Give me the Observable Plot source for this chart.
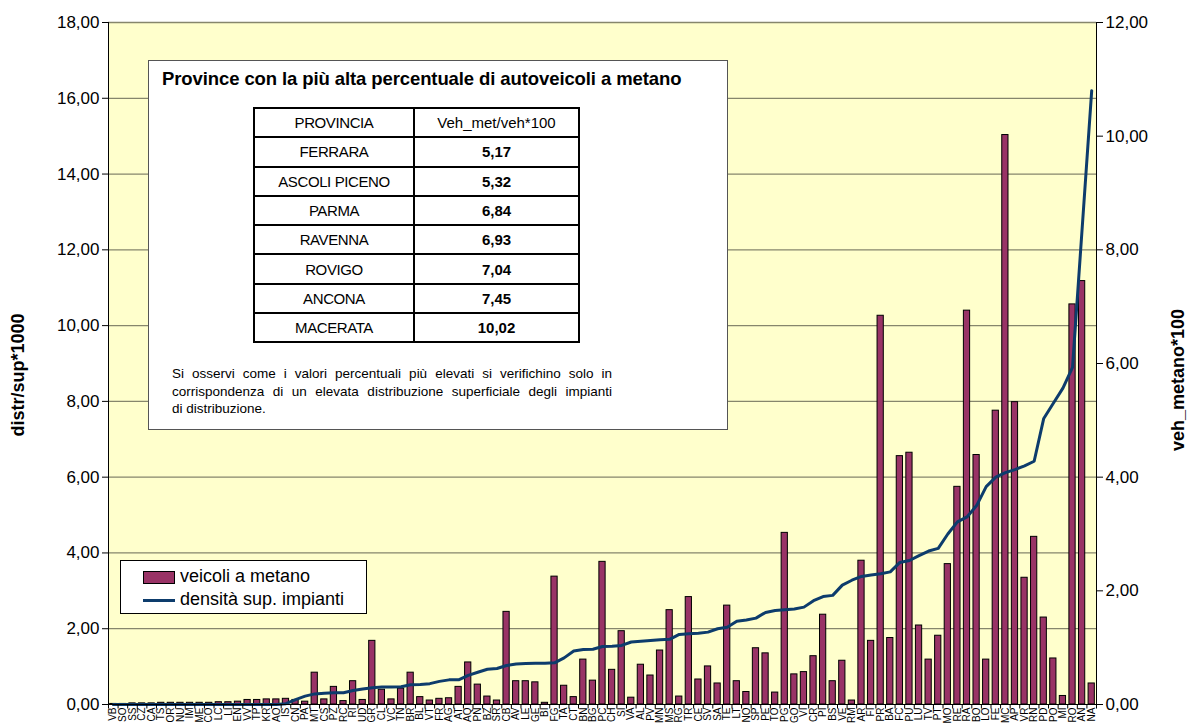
<!DOCTYPE html>
<html>
<head>
<meta charset="utf-8">
<script src="https://cdn.jsdelivr.net/npm/d3@7"></script>
<script src="https://cdn.jsdelivr.net/npm/@observablehq/plot@0.6"></script>
<style>
  html, body { margin: 0; padding: 0; background: #fff; }
  #wrap { position: relative; width: 1189px; height: 724px; overflow: hidden; font-family: "Liberation Sans", Arial, sans-serif; }
  #wrap svg { position: absolute; left: 0; top: 0; }
  .ytitle { position: absolute; font-weight: bold; font-size: 18px; white-space: nowrap; transform: translate(-50%, -50%) rotate(-90deg); }
  #note { position: absolute; left: 148px; top: 60px; width: 580px; height: 370px; background: #fff; border: 1px solid #555; box-sizing: border-box; }
  #note h3 { position: absolute; left: 13px; top: 7px; margin: 0; font-size: 18.5px; font-weight: bold; white-space: nowrap; letter-spacing: -0.1px; }
  #note table { position: absolute; left: 104px; top: 46px; border-collapse: collapse; }
  #note td { border: 2px solid #000; height: 27.3px; padding: 0; text-align: center; font-size: 15px; }
  #note td.c1 { width: 158px; letter-spacing: -0.4px; }
  #note td.c2 { width: 163px; }
  #note td.b { font-weight: bold; }
  #note .para { position: absolute; left: 23px; top: 304px; width: 440px; font-size: 13.5px; line-height: 17.5px; }
  #note .para div { white-space: nowrap; }
  #note .para div.j { text-align: justify; text-align-last: justify; white-space: normal; }
  #legend { position: absolute; left: 120px; top: 560px; width: 247px; height: 54px; background: #fff; border: 1px solid #000; box-sizing: border-box; }
  .li { position: absolute; left: 22px; height: 22px; font-size: 18px; white-space: nowrap; }
  .sw { display: inline-block; width: 32px; vertical-align: middle; margin-right: 5px; }
</style>
</head>
<body>
<div id="wrap"></div>
<script>
// ---- data ----
const provinces = ["VB","SO","SS","CZ","CA","TS","OR","NU","IM","ME","CO","LC","LI","EN","VV","TP","KR","AO","IS","CN",
  "PA","MT","CS","PZ","RC","RI","UD","GR","CL","VC","TN","BR","BL","VT","FR","AG","AT","AQ","PN","BZ",
  "SR","CB","AV","LE","GE","BI","FG","TA","CT","BN","BG","PC","CH","SI","VA","AL","PV","MN","MS","RG",
  "TR","CE","SV","SA","TE","LT","NO","SP","PE","TO","PG","GO","VI","CR","PI","BS","VE","RM","AR","FI",
  "PR","BA","FC","PU","LU","TV","PT","MO","RE","RA","BO","LO","FE","MC","AP","VR","RN","PD","PO","MI",
  "RO","AN","NA"];
// veicoli a metano (veh_metano*100, right axis)
const vehMetano = [0.01,0.01,0.02,0.02,0.02,0.03,0.03,0.03,0.03,0.03,0.03,0.04,0.04,0.05,0.08,0.08,0.09,0.09,0.10,0.08,
  0.05,0.56,0.09,0.31,0.06,0.41,0.08,1.12,0.26,0.09,0.28,0.56,0.13,0.07,0.10,0.11,0.31,0.74,0.35,0.14,
  0.07,1.63,0.41,0.41,0.39,0.03,2.25,0.33,0.13,0.79,0.42,2.51,0.61,1.29,0.12,0.70,0.51,0.95,1.66,0.14,
  1.89,0.44,0.67,0.37,1.74,0.41,0.22,0.99,0.90,0.21,3.02,0.53,0.57,0.85,1.58,0.41,0.77,0.07,2.53,1.12,
  6.84,1.17,4.37,4.43,1.39,0.79,1.21,2.47,3.83,6.93,4.39,0.79,5.17,10.02,5.32,2.23,2.95,1.53,0.81,0.15,
  7.04,7.45,0.37];
// densità sup. impianti (distr/sup*1000, left axis)
const densita = [0,0,0,0,0,0,0,0,0,0,0,0,0,0,0,0,0,0,0.02,0.13,
  0.22,0.28,0.30,0.31,0.31,0.37,0.41,0.44,0.46,0.46,0.47,0.52,0.53,0.55,0.61,0.65,0.65,0.77,0.85,0.93,
  0.95,1.03,1.07,1.08,1.09,1.09,1.10,1.23,1.41,1.45,1.46,1.53,1.54,1.56,1.65,1.67,1.69,1.71,1.72,1.85,
  1.87,1.88,1.91,2.00,2.04,2.20,2.23,2.28,2.43,2.48,2.50,2.52,2.57,2.74,2.85,2.88,3.15,3.28,3.38,3.42,
  3.45,3.50,3.75,3.80,3.93,4.05,4.12,4.50,4.82,4.95,5.25,5.75,6.00,6.12,6.20,6.30,6.42,7.55,7.95,8.35,
  8.90,12.55,16.20];
const leftTicks = [0,2,4,6,8,10,12,14,16,18];
const rightTicks = [0,2,4,6,8,10,12];
const tableProv = ["FERRARA","ASCOLI PICENO","PARMA","RAVENNA","ROVIGO","ANCONA","MACERATA"];
const tableVal = ["5,17","5,32","6,84","6,93","7,04","7,45","10,02"];

// ---- chart ----
const k = 18 / 12; // right axis -> left axis units
const fmt = d => d.toFixed(2).replace(".", ",");
const data = provinces.map((p, i) => ({prov: p, veh: vehMetano[i] * k, dens: densita[i]}));
const W = 1189, H = 724, mL = 108, mR = 93;
const step = (W - mL - mR) / provinces.length;

const chart = Plot.plot({
  width: W, height: H,
  marginLeft: mL, marginRight: mR, marginTop: 22, marginBottom: 20,
  style: {fontFamily: "Liberation Sans, Arial, sans-serif", background: "transparent", overflow: "visible", color: "#000"},
  x: {type: "band", domain: provinces, paddingInner: 0.35, paddingOuter: 0.175},
  y: {domain: [0, 18]},
  marks: [
    Plot.frame({fill: "#FFFFCC", stroke: null}),
    Plot.ruleY(leftTicks.filter(d => d > 0), {stroke: "#86866c", strokeWidth: 1.3}),
    Plot.barY(data, {x: "prov", y: "veh", fill: "#993366", stroke: "#000", strokeWidth: 1}),
    Plot.line(data, {x: "prov", y: "dens", stroke: "#0d3c6c", strokeWidth: 3}),
    Plot.ruleY([0], {stroke: "#000", strokeWidth: 1}),
    Plot.frame({anchor: "left", stroke: "#000"}),
    Plot.frame({anchor: "right", stroke: "#000"}),
    Plot.ruleX(provinces, {x: d => d, dx: -step / 2, y1: 0, y2: -0.12, stroke: "#000"}),
    Plot.ruleX(provinces.slice(-1), {x: d => d, dx: step / 2, y1: 0, y2: -0.12, stroke: "#000"}),
    Plot.axisY({ticks: leftTicks, tickFormat: fmt, fontSize: 17, tickSize: 6, label: null}),
    Plot.axisY({anchor: "right", ticks: rightTicks.map(d => d * k), tickFormat: d => fmt(d / k), fontSize: 17, tickSize: 6, label: null}),
    Plot.axisX({tickRotate: -90, fontSize: 10, tickSize: 0, tickPadding: 3, label: null})
  ]
});

const wrap = document.getElementById("wrap");
wrap.appendChild(chart);

// axis titles
const t1 = document.createElement("div");
t1.className = "ytitle"; t1.textContent = "distr/sup*1000";
t1.style.left = "18px"; t1.style.top = "375px";
wrap.appendChild(t1);
const t2 = document.createElement("div");
t2.className = "ytitle"; t2.textContent = "veh_metano*100";
t2.style.left = "1178px"; t2.style.top = "380px";
wrap.appendChild(t2);

// annotation box
const note = document.createElement("div");
note.id = "note";
let rows = `<tr><td class="c1">PROVINCIA</td><td class="c2">Veh_met/veh*100</td></tr>`;
tableProv.forEach((p, i) => { rows += `<tr><td class="c1">${p}</td><td class="c2 b">${tableVal[i]}</td></tr>`; });
note.innerHTML = `<h3>Province con la più alta percentuale di autoveicoli a metano</h3>
<table>${rows}</table>
<div class="para"><div class="j">Si osservi come i valori percentuali più elevati si verifichino solo in</div><div class="j">corrispondenza di un elevata distribuzione superficiale degli impianti</div><div>di distribuzione.</div></div>`;
wrap.appendChild(note);

// legend
const lg = document.createElement("div");
lg.id = "legend";
lg.innerHTML = `<div class="li" style="top:5px"><span class="sw" style="height:11px;background:#993366;border:1px solid #000;width:30px"></span>veicoli a metano</div>
<div class="li" style="top:28px"><span class="sw" style="height:3px;background:#0d3c6c"></span>densità sup. impianti</div>`;
wrap.appendChild(lg);
</script>
</body>
</html>
